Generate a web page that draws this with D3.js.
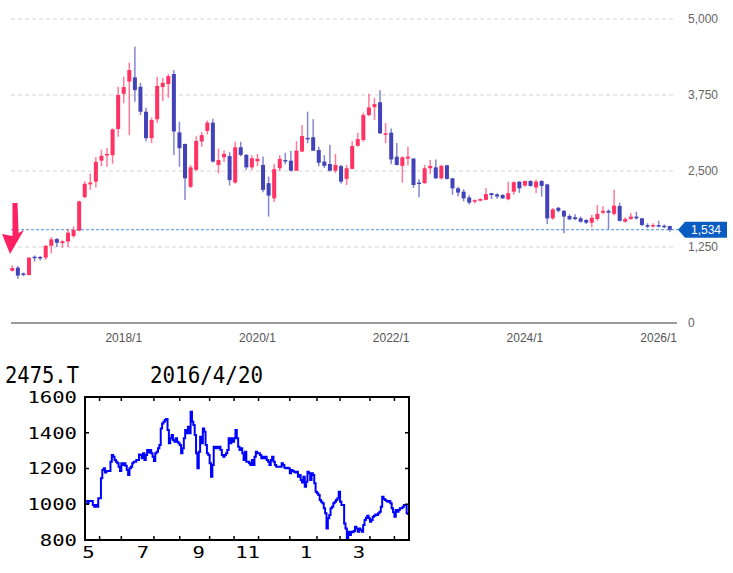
<!DOCTYPE html>
<html>
<head>
<meta charset="utf-8">
<script src="https://cdn.jsdelivr.net/npm/d3@7"></script>
<style>
  body { margin: 0; background: #fff; }
  svg { display: block; }
</style>
</head>
<body>
<svg id="chart" width="733" height="573"></svg>
<script>
// ---- monthly candles, 2016/5 .. 2026/3 ----
const firstMonth = new Date(2016, 4, 1);

const open = [
  860, 910, 815, 790, 1090, 1085, 1075, 1270, 1380, 1315, 1340, 1430, 1520, 2070, 2280, 2325, 2670, 2760, 2760, 3190,
  3770, 3970, 4040, 3885, 3475, 3040, 3350, 3880, 3930, 4095, 3135, 2945, 2240, 2520, 2985, 3160, 3295, 2600, 2725, 2745,
  2310, 2890, 2765, 2560, 2660, 2600, 2300, 2050, 2545, 2680, 2670, 2505, 2820, 3045, 3055, 2845, 2655, 2615, 2505, 2580,
  2370, 2535, 2915, 3010, 3420, 3550, 3630, 3095, 3130, 2735, 2585, 2705, 2705, 2310, 2300, 2545, 2560, 2380, 2595, 2380,
  2215, 2160, 2065, 1995, 2012, 2025, 2135, 2115, 2105, 2035, 2160, 2325, 2260, 2335, 2230, 2335, 2280, 1722, 1895, 1845,
  1760, 1740, 1722, 1695, 1650, 1710, 1815, 1845, 1795, 1925, 1666, 1710, 1750, 1722, 1610, 1590, 1610, 1600, 1595
];
const high = [
  950, 937, 830, 1080, 1110, 1100, 1280, 1410, 1400, 1360, 1550, 1590, 2010, 2330, 2460, 2730, 2850, 2880, 3200, 3887,
  4050, 4280, 4545, 3950, 3540, 3380, 4050, 4030, 4100, 4160, 3310, 2950, 2600, 3070, 3140, 3330, 3360, 2870, 2840, 2810,
  2980, 2980, 2780, 2760, 2780, 2740, 2410, 2620, 2760, 2800, 2830, 2990, 3257, 3475, 3350, 2900, 2760, 2930, 2780, 2600,
  2600, 2990, 3130, 3460, 3770, 3700, 3830, 3290, 3200, 2960, 2740, 2900, 2710, 2365, 2600, 2680, 2690, 2600, 2600, 2385,
  2240, 2200, 2100, 2030, 2050, 2220, 2140, 2135, 2120, 2324, 2330, 2330, 2345, 2350, 2360, 2350, 2290, 1890, 1910, 1860,
  1790, 1790, 1750, 1705, 1776, 1940, 1920, 1870, 2190, 1980, 1740, 1810, 1830, 1725, 1640, 1640, 1680, 1620, 1600
];
const low = [
  845, 729, 770, 780, 1010, 1030, 1036, 1146, 1250, 1240, 1250, 1400, 1510, 2050, 2190, 2230, 2580, 2570, 2620, 3065,
  3613, 3090, 3640, 3420, 2990, 2960, 3290, 3650, 3700, 2765, 2570, 2025, 2220, 2500, 2900, 3100, 2640, 2460, 2650, 2260,
  2290, 2740, 2520, 2520, 2580, 2150, 1750, 1990, 2500, 2610, 2490, 2500, 2810, 2955, 2830, 2580, 2550, 2490, 2470, 2290,
  2270, 2530, 2900, 2980, 3400, 3340, 3110, 2960, 2610, 2590, 2308, 2590, 2220, 2070, 2290, 2450, 2370, 2360, 2360, 2110,
  2080, 2000, 1950, 1965, 2000, 2020, 2040, 2045, 2040, 2020, 2110, 2140, 2240, 2240, 2140, 2078, 1630, 1700, 1820, 1475,
  1690, 1690, 1650, 1630, 1574, 1680, 1790, 1540, 1770, 1670, 1650, 1700, 1700, 1590, 1560, 1570, 1570, 1560, 1500
];
const close = [
  905, 780, 795, 1075, 1070, 1075, 1270, 1375, 1320, 1345, 1485, 1530, 2000, 2290, 2310, 2650, 2750, 2780, 3185, 3750,
  3880, 4160, 3830, 3475, 3040, 3340, 3900, 3950, 4060, 3150, 2875, 2380, 2560, 2995, 3090, 3295, 2655, 2680, 2780, 2350,
  2890, 2765, 2560, 2710, 2700, 2190, 2095, 2530, 2700, 2665, 2505, 2835, 3075, 3020, 2835, 2635, 2585, 2505, 2600, 2325,
  2545, 2910, 3025, 3420, 3545, 3600, 3120, 3120, 2690, 2600, 2725, 2735, 2270, 2300, 2545, 2585, 2380, 2585, 2370, 2215,
  2145, 2050, 1980, 2020, 2040, 2120, 2105, 2080, 2050, 2135, 2315, 2215, 2335, 2255, 2325, 2255, 1720, 1870, 1845, 1750,
  1705, 1710, 1666, 1650, 1730, 1795, 1845, 1815, 1930, 1680, 1710, 1750, 1722, 1612, 1590, 1610, 1590, 1580, 1534
];
const lastPrice = 1534;
const priceTicks = [0, 1250, 2500, 3750, 5000];
const yearTicks = [2018, 2020, 2022, 2024, 2026];

// ---- inset: daily closes up to 2016/4/20 ----
const insetTitle = "2475.T";
const insetDate = "2016/4/20";
const insetClose = [
  1018, 1005, 1018, 1018, 1018, 996, 986, 996, 986, 1033, 1033, 1145, 1191, 1201, 1178, 1186, 1186, 1186, 1238, 1275,
  1266, 1247, 1238, 1229, 1210, 1186, 1229, 1219, 1229, 1216, 1191, 1163, 1201, 1210, 1229, 1238, 1238, 1247, 1247, 1279,
  1275, 1257, 1285, 1247, 1275, 1303, 1290, 1303, 1285, 1266, 1242, 1285, 1294, 1313, 1331, 1424, 1452, 1462, 1471, 1477,
  1415, 1341, 1369, 1387, 1359, 1350, 1369, 1350, 1341, 1331, 1285, 1313, 1369, 1415, 1397, 1434, 1397, 1518, 1462, 1443,
  1387, 1285, 1201, 1294, 1378, 1341, 1424, 1406, 1331, 1285, 1275, 1229, 1154, 1219, 1322, 1313, 1322, 1313, 1322, 1303,
  1275, 1266, 1275, 1285, 1303, 1369, 1341, 1369, 1350, 1369, 1415, 1369, 1322, 1303, 1313, 1285, 1247, 1294, 1238, 1238,
  1229, 1219, 1247, 1219, 1266, 1294, 1285, 1285, 1275, 1257, 1266, 1257, 1266, 1247, 1238, 1219, 1247, 1266, 1238, 1219,
  1210, 1210, 1210, 1210, 1229, 1219, 1204, 1201, 1204, 1201, 1173, 1191, 1186, 1182, 1178, 1182, 1154, 1163, 1135, 1122,
  1154, 1098, 1126, 1182, 1173, 1135, 1173, 1163, 1117, 1070, 1061, 1052, 1024, 1014, 1005, 977, 949, 865, 921, 940,
  977, 986, 1005, 1014, 1024, 1033, 1070, 1014, 996, 996, 893, 865, 809, 846, 828, 846, 843, 850, 874, 865,
  846, 865, 856, 846, 884, 912, 925, 936, 921, 902, 912, 930, 936, 943, 940, 949, 958, 986, 1042, 1029,
  1024, 1018, 1014, 1018, 1005, 977, 955, 930, 968, 958, 968, 977, 977, 986, 996, 996, 949, 940
];
const insetYTicks = [800, 1000, 1200, 1400, 1600];
// trading-day index of each month start on the inset axis
const insetMonthStarts = [10, 26, 50, 69, 91, 109, 127, 150, 170, 187, 209, 227];
const insetMonthLabels = ["5", "", "7", "", "9", "", "11", "", "1", "", "3", ""];

const svg = d3.select('#chart');
const sans = "'Liberation Sans', Arial, sans-serif";
const mono = "'DejaVu Sans Mono', monospace";

// ================= main candle chart =================
const months = close.map((d, i) => d3.timeMonth.offset(firstMonth, i));
const candles = months.map((m, i) => ({ m, o: open[i], h: high[i], l: low[i], c: close[i] }));

const x = d3.scaleBand()
    .domain(months)
    .range([9.5, 672.6])
    .paddingInner(0.28)
    .paddingOuter(0.14);

const y = d3.scaleLinear()
    .domain([0, 5000])
    .range([323, 19]);

const upColor = '#ff3363';
const downColor = '#4343b9';

// grid
svg.append('g').selectAll('line')
    .data(priceTicks.filter(d => d > 0))
  .enter().append('line')
    .attr('x1', 11).attr('x2', 676)
    .attr('y1', d => y(d)).attr('y2', d => y(d))
    .style('stroke', '#d4d4d4')
    .style('stroke-dasharray', '4,3')
    .style('stroke-width', '1px');

// baseline
svg.append('line')
    .attr('x1', 11).attr('x2', 677)
    .attr('y1', y(0)).attr('y2', y(0))
    .style('stroke', '#7a7a7a')
    .style('stroke-width', '1.5px');

// price labels (right)
svg.append('g').selectAll('text')
    .data(priceTicks)
  .enter().append('text')
    .attr('x', 688)
    .attr('y', d => y(d))
    .attr('dy', '0.35em')
    .style('font-family', sans)
    .style('font-size', '12px')
    .style('fill', '#666')
    .text(d => d3.format(',')(d));

// year labels
svg.append('g').selectAll('text')
    .data(yearTicks)
  .enter().append('text')
    .attr('x', d => x(new Date(d, 0, 1)) + x.bandwidth() / 2)
    .attr('y', 342)
    .attr('text-anchor', 'middle')
    .style('font-family', sans)
    .style('font-size', '12px')
    .style('fill', '#555')
    .text(d => `${d}/1`);

// last price line
svg.append('line')
    .attr('x1', 11).attr('x2', 680)
    .attr('y1', y(lastPrice)).attr('y2', y(lastPrice))
    .style('stroke', '#4a90e2')
    .style('stroke-dasharray', '3,2')
    .style('stroke-width', '1px');

// candles
let cg = svg.append('g').selectAll('g')
    .data(candles)
  .enter().append('g');

cg.append('line')
    .attr('x1', d => x(d.m) + x.bandwidth() / 2)
    .attr('x2', d => x(d.m) + x.bandwidth() / 2)
    .attr('y1', d => y(d.h))
    .attr('y2', d => y(d.l))
    .style('stroke', d => d.c >= d.o ? upColor : downColor)
    .style('stroke-opacity', 0.65)
    .style('stroke-width', '1.5px');

cg.append('rect')
    .attr('x', d => x(d.m))
    .attr('width', x.bandwidth())
    .attr('y', d => y(Math.max(d.o, d.c)))
    .attr('height', d => Math.max(1.5, Math.abs(y(d.o) - y(d.c))))
    .style('fill', d => d.c >= d.o ? upColor : downColor);

// last price flag
let yc = y(lastPrice);
let flag = d3.path();
flag.moveTo(678, yc);
flag.lineTo(685, yc - 8);
flag.lineTo(727, yc - 8);
flag.lineTo(727, yc + 8);
flag.lineTo(685, yc + 8);
flag.closePath();
svg.append('path').attr('d', flag.toString()).style('fill', '#0b5cc0');
svg.append('text')
    .attr('x', 706).attr('y', yc).attr('dy', '0.35em')
    .attr('text-anchor', 'middle')
    .style('font-family', sans)
    .style('font-size', '12px')
    .style('fill', '#fff')
    .text(d3.format(',')(lastPrice));

// pink arrow marker at the start
let arrow = d3.path();
arrow.moveTo(12.5, 203);
arrow.lineTo(17.5, 203);
arrow.lineTo(18.5, 233);
arrow.lineTo(24, 230);
arrow.lineTo(10, 254);
arrow.lineTo(2, 234);
arrow.lineTo(12.5, 236);
arrow.closePath();
svg.append('path').attr('d', arrow.toString()).style('fill', '#ff1f63');

// ================= inset line chart =================
const box = { left: 85, top: 397, right: 409, bottom: 540 };

const xi = d3.scaleLinear()
    .domain([0, insetClose.length - 1])
    .range([86, 408]);
const yi = d3.scaleLinear()
    .domain([800, 1600])
    .range([box.bottom, box.top]);

svg.append('clipPath').attr('id', 'insetClip')
  .append('rect')
    .attr('x', box.left).attr('y', box.top)
    .attr('width', box.right - box.left).attr('height', box.bottom - box.top);

svg.append('path')
    .datum(insetClose)
    .attr('clip-path', 'url(#insetClip)')
    .attr('d', d3.line().x((d, i) => xi(i)).y(d => yi(d)).curve(d3.curveStepAfter))
    .style('fill', 'none')
    .style('stroke', '#0000ff')
    .style('stroke-width', '2px');

// y ticks (inside, both sides)
let inner = insetYTicks.filter(d => d > 800 && d < 1600);
svg.append('g').selectAll('line')
    .data(inner)
  .enter().append('line')
    .attr('x1', box.left).attr('x2', box.left + 4)
    .attr('y1', d => yi(d)).attr('y2', d => yi(d))
    .style('stroke', '#000').style('stroke-width', '1.5px');
svg.append('g').selectAll('line')
    .data(inner)
  .enter().append('line')
    .attr('x1', box.right).attr('x2', box.right - 4)
    .attr('y1', d => yi(d)).attr('y2', d => yi(d))
    .style('stroke', '#000').style('stroke-width', '1.5px');

// month ticks (inside, top and bottom)
svg.append('g').selectAll('line')
    .data(insetMonthStarts)
  .enter().append('line')
    .attr('x1', d => xi(d)).attr('x2', d => xi(d))
    .attr('y1', box.bottom).attr('y2', box.bottom - 4)
    .style('stroke', '#000').style('stroke-width', '1.5px');
svg.append('g').selectAll('line')
    .data(insetMonthStarts)
  .enter().append('line')
    .attr('x1', d => xi(d)).attr('x2', d => xi(d))
    .attr('y1', box.top).attr('y2', box.top + 4)
    .style('stroke', '#000').style('stroke-width', '1.5px');

// frame
svg.append('rect')
    .attr('x', box.left).attr('y', box.top)
    .attr('width', box.right - box.left).attr('height', box.bottom - box.top)
    .style('fill', 'none')
    .style('stroke', '#000')
    .style('stroke-width', '2px');

// y labels
svg.append('g').selectAll('text')
    .data(insetYTicks)
  .enter().append('text')
    .attr('x', 77)
    .attr('y', d => yi(d))
    .attr('dy', '0.36em')
    .attr('text-anchor', 'end')
    .attr('textLength', d => String(d).length * 12.4)
    .attr('lengthAdjust', 'spacingAndGlyphs')
    .style('font-family', mono)
    .style('font-size', '16px')
    .style('fill', '#000')
    .text(d => d);

// month labels
svg.append('g').selectAll('text')
    .data(insetMonthStarts.map((d, i) => ({ d, t: insetMonthLabels[i] })).filter(e => e.t))
  .enter().append('text')
    .attr('x', e => xi(e.d) - 11)
    .attr('y', 558)
    .attr('text-anchor', 'middle')
    .attr('textLength', e => e.t.length * 12.4)
    .attr('lengthAdjust', 'spacingAndGlyphs')
    .style('font-family', mono)
    .style('font-size', '16px')
    .style('fill', '#000')
    .text(e => e.t);

// header
svg.append('text')
    .attr('x', 5).attr('y', 383)
    .attr('textLength', 74)
    .attr('lengthAdjust', 'spacingAndGlyphs')
    .style('font-family', mono)
    .style('font-size', '23px')
    .text(insetTitle);
svg.append('text')
    .attr('x', 150).attr('y', 383)
    .attr('textLength', 113)
    .attr('lengthAdjust', 'spacingAndGlyphs')
    .style('font-family', mono)
    .style('font-size', '23px')
    .text(insetDate);
</script>
</body>
</html>
